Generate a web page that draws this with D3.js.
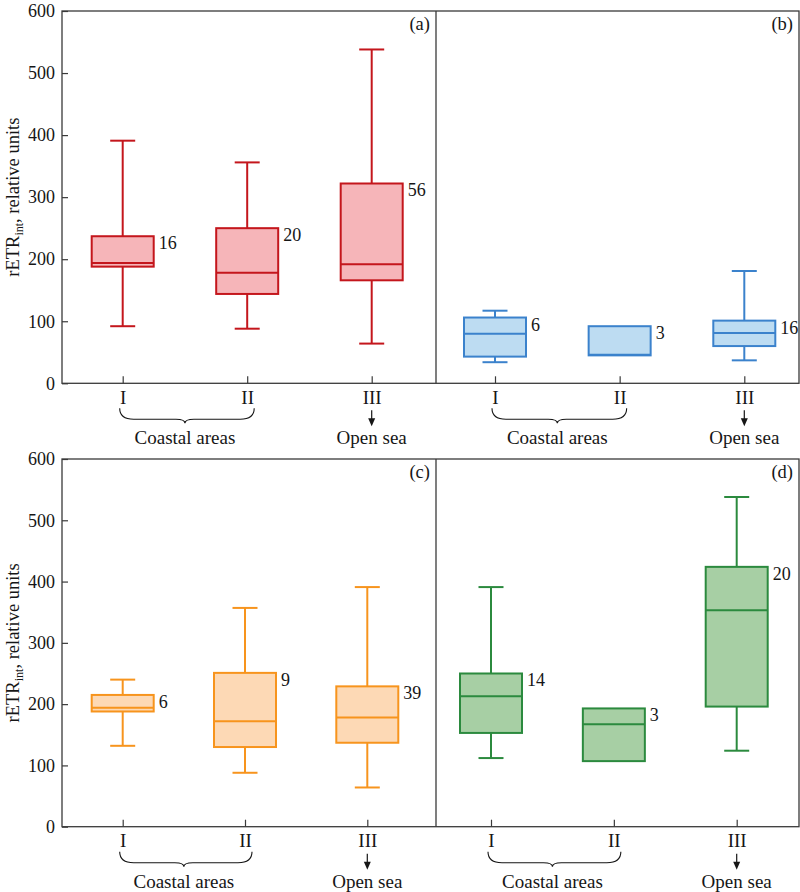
<!DOCTYPE html>
<html>
<head>
<meta charset="utf-8">
<script src="https://cdn.jsdelivr.net/npm/d3@7"></script>
<style>
  body { margin: 0; background: #fff; }
  svg { display: block; font-family: "Liberation Serif", "DejaVu Serif", serif; }
</style>
</head>
<body>
<div id="chart-area"></div>
<script>
// sites on the x axis
var categories = ["I", "II", "III"];
var yTicks = [0, 100, 200, 300, 400, 500, 600];

// box stats per site: [min, q1, median, q3, max]
var statsA = [[92, 188, 194, 237, 391], [88, 144, 178, 250, 356], [64, 166, 192, 322, 538]];
var statsB = [[34, 43, 80, 106, 117], [45, 45, 46, 92, 92], [37, 60, 81, 101, 181]];
var statsC = [[132, 188, 194, 215, 240], [88, 130, 172, 251, 357], [64, 137, 178, 229, 391]];
var statsD = [[112, 153, 213, 250, 391], [107, 107, 167, 193, 193], [124, 196, 353, 424, 538]];

// number of samples next to each box
var countsA = [16, 20, 56];
var countsB = [6, 3, 16];
var countsC = [6, 9, 39];
var countsD = [14, 3, 20];

var letters = ["(a)", "(b)", "(c)", "(d)"];

var width = 800, height = 892;
var left = 62, mid = 436, right = 799;
var serif = "Liberation Serif";
var ink = "#161616";

var svg = d3.select("#chart-area")
  .append("svg")
    .attr("width", width)
    .attr("height", height)
    .attr("font-family", serif);

// two rows, each with own vertical scale
var rows = [
  { top: 11, bottom: 383.3 },
  { top: 459, bottom: 826.7 }
];

var panels = [
  { row: 0, x0: left, x1: mid,   range: [122.7, 371.7], stats: statsA, n: countsA, stroke: "#c4161c", fill: "#f6b5b9" },
  { row: 0, x0: mid,  x1: right, range: [495, 744.3],   stats: statsB, n: countsB, stroke: "#3b82cc", fill: "#bddcf2" },
  { row: 1, x0: left, x1: mid,   range: [122.7, 367.3], stats: statsC, n: countsC, stroke: "#f7941d", fill: "#fdd9b5" },
  { row: 1, x0: mid,  x1: right, range: [491, 736.7],   stats: statsD, n: countsD, stroke: "#2b8a3e", fill: "#a7cfa4" }
];

var frameColor = "#3a3a3a";

rows.forEach(function (r) {
  r.y = d3.scaleLinear().domain([0, 600]).range([r.bottom, r.top]);

  // Y axis, inward ticks
  var yG = svg.append("g")
    .attr("transform", "translate(" + left + ",0)")
    .call(d3.axisLeft(r.y).tickValues(yTicks).tickSize(-6).tickPadding(7));
  yG.attr("font-family", serif);
  yG.select(".domain").remove();
  yG.selectAll("line").attr("stroke", frameColor).attr("stroke-width", 1.2);
  yG.selectAll("text")
    .attr("font-size", "18px")
    .attr("fill", ink);

  // Y label
  var lab = svg.append("text")
    .attr("transform", "translate(18.5," + ((r.top + r.bottom) / 2) + ") rotate(-90)")
    .attr("text-anchor", "middle")
    .attr("font-size", "18.5px")
    .attr("fill", ink);
  lab.append("tspan").text("rETR");
  lab.append("tspan").attr("font-size", "12px").attr("dy", 4).text("int");
  lab.append("tspan").attr("dy", -4).text(", relative units");
});

panels.forEach(function (p, i) {
  var r = rows[p.row];
  var y = r.y;
  var x = d3.scalePoint().domain(categories).range(p.range);
  var g = svg.append("g");
  var bw = 62, cap = 25;

  // X axis, inward ticks
  var xG = svg.append("g")
    .attr("transform", "translate(0," + r.bottom + ")")
    .call(d3.axisBottom(x).tickSize(-7).tickPadding(7));
  xG.attr("font-family", serif);
  xG.select(".domain").remove();
  xG.selectAll("line").attr("stroke", frameColor).attr("stroke-width", 1.2);
  xG.selectAll("text")
    .attr("font-size", "19px")
    .attr("fill", ink);

  var boxes = g.selectAll("g.box")
    .data(p.stats)
    .enter()
    .append("g")
      .attr("class", "box");

  // whiskers, box, median, count
  boxes.each(function (d, j) {
    var b = d3.select(this);
    var cx = x(categories[j]);
    if (d[4] > d[3]) {
      b.append("line").attr("x1", cx).attr("x2", cx).attr("y1", y(d[3])).attr("y2", y(d[4]));
      b.append("line").attr("x1", cx - cap / 2).attr("x2", cx + cap / 2).attr("y1", y(d[4])).attr("y2", y(d[4]));
    }
    if (d[0] < d[1]) {
      b.append("line").attr("x1", cx).attr("x2", cx).attr("y1", y(d[1])).attr("y2", y(d[0]));
      b.append("line").attr("x1", cx - cap / 2).attr("x2", cx + cap / 2).attr("y1", y(d[0])).attr("y2", y(d[0]));
    }
    b.append("rect")
      .attr("x", cx - bw / 2)
      .attr("y", y(d[3]))
      .attr("width", bw)
      .attr("height", y(d[1]) - y(d[3]))
      .attr("fill", p.fill);
    b.append("line")
      .attr("x1", cx - bw / 2).attr("x2", cx + bw / 2)
      .attr("y1", y(d[2])).attr("y2", y(d[2]));
    b.append("text")
      .attr("x", cx + bw / 2 + 5)
      .attr("y", y(d[3]) + 13)
      .attr("font-size", "18px")
      .attr("fill", ink)
      .text(p.n[j]);
  });
  boxes.selectAll("line, rect")
    .attr("stroke", p.stroke)
    .attr("stroke-width", 2);

  // panel letter
  svg.append("text")
    .attr("x", p.x1 - 6)
    .attr("y", r.top + 18.5)
    .attr("text-anchor", "end")
    .attr("font-size", "18.5px")
    .attr("fill", ink)
    .text(letters[i]);

  // brace under I and II
  var base = r.bottom;
  var xa = x("I") - 3, xb = x("II") + 7, xm = (x("I") + x("II")) / 2;
  var y0 = base + 25, y1 = base + 36, y2 = base + 40;
  svg.append("path")
    .attr("d", "M" + xa + "," + y0 +
      " Q" + xa + "," + y1 + " " + (xa + 14) + "," + y1 +
      " L" + (xm - 9) + "," + y1 +
      " Q" + xm + "," + y1 + " " + xm + "," + y2 +
      " Q" + xm + "," + y1 + " " + (xm + 9) + "," + y1 +
      " L" + (xb - 14) + "," + y1 +
      " Q" + xb + "," + y1 + " " + xb + "," + y0)
    .attr("fill", "none")
    .attr("stroke", ink)
    .attr("stroke-width", 1.1);
  svg.append("text")
    .attr("x", xm)
    .attr("y", base + 61)
    .attr("text-anchor", "middle")
    .attr("font-size", "19px")
    .attr("fill", ink)
    .text("Coastal areas");

  // arrow under III
  var x3 = x("III");
  svg.append("line")
    .attr("x1", x3).attr("x2", x3)
    .attr("y1", base + 27).attr("y2", base + 37)
    .attr("stroke", ink).attr("stroke-width", 1.2);
  svg.append("path")
    .attr("d", "M" + (x3 - 3.5) + "," + (base + 35) + " L" + (x3 + 3.5) + "," + (base + 35) + " L" + x3 + "," + (base + 43) + " Z")
    .attr("fill", ink);
  svg.append("text")
    .attr("x", x3)
    .attr("y", base + 61)
    .attr("text-anchor", "middle")
    .attr("font-size", "19px")
    .attr("fill", ink)
    .text("Open sea");
});

// frames
rows.forEach(function (r) {
  svg.append("rect")
    .attr("x", left).attr("y", r.top)
    .attr("width", right - left).attr("height", r.bottom - r.top)
    .attr("fill", "none")
    .attr("stroke", frameColor)
    .attr("stroke-width", 1.3);
  svg.append("line")
    .attr("x1", mid).attr("x2", mid)
    .attr("y1", r.top).attr("y2", r.bottom)
    .attr("stroke", frameColor)
    .attr("stroke-width", 1.3);
});
</script>
</body>
</html>
